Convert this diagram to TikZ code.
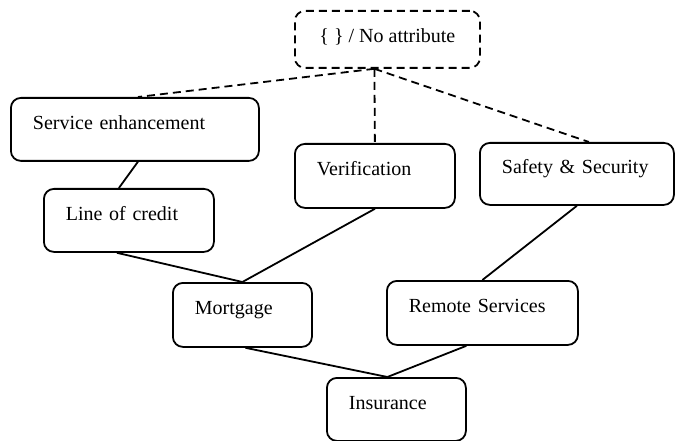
\documentclass[tikz,border=0pt]{standalone}
\usepackage{fontspec}
\setmainfont{Liberation Serif}
\usetikzlibrary{calc,positioning}

\begin{document}
\begin{tikzpicture}[x=1pt, y=-1pt, line width=1.8pt,
        box/.style={draw, rounded corners=10pt, anchor=north west, align=left,
            inner xsep=22pt, minimum height=63pt, text height=14pt, text depth=14pt,
            font=\fontsize{20}{24}\selectfont},
        topbox/.style={draw, dash pattern=on 8pt off 5pt, rounded corners=10pt,
            anchor=north west, minimum width=185pt, minimum height=57pt,
            text height=14pt, text depth=7pt, font=\fontsize{20}{24}\selectfont},
        dashline/.style={dash pattern=on 8pt off 5pt}]

        \useasboundingbox (0, 0) rectangle (675, 441);

        %%top
        \node[topbox] (attr) at (294, 10){\{ \} / No attribute};

        %%level 1
        \node[box, text width=204pt] (serv) at (10, 97){Service enhancement};
        \node[box, text width=116pt, minimum height=64pt] (verif) at (294, 143){Verification};
        \node[box, text width=150pt, minimum height=62pt] (safety) at (479, 142){Safety \& Security};

        %%level 2
        \node[box, text width=126pt] (credit) at (43, 188){Line of credit};

        %%level 3
        \node[box, text width=95pt, minimum height=64pt] (mortg) at (172, 282){Mortgage};
        \node[box, text width=147pt, minimum height=64pt] (remote) at (386, 280){Remote Services};

        %%level 4
        \node[box, text width=95pt] (insur) at (326, 377){Insurance};

        %%dashed links
        \coordinate (hub) at ([xshift=-13pt]attr.south);
            \draw[dashline] (hub) to ([xshift=3pt]serv.north);
            \draw[dashline] (hub) to (verif.north);
            \draw[dashline] (hub) to ([xshift=12pt]safety.north);

        %%solid links
        \draw([xshift=3pt]serv.south) to ([xshift=-10pt]credit.north);
        \draw([xshift=-12pt]credit.south) to (mortg.north);
        \draw(verif.south) to (mortg.north);
        \draw(safety.south) to (remote.north);
        \draw([xshift=3pt]mortg.south) to ([xshift=-9pt]insur.north);
        \draw([xshift=-16pt]remote.south) to ([xshift=-9pt]insur.north);
    \end{tikzpicture}
\end{document}
